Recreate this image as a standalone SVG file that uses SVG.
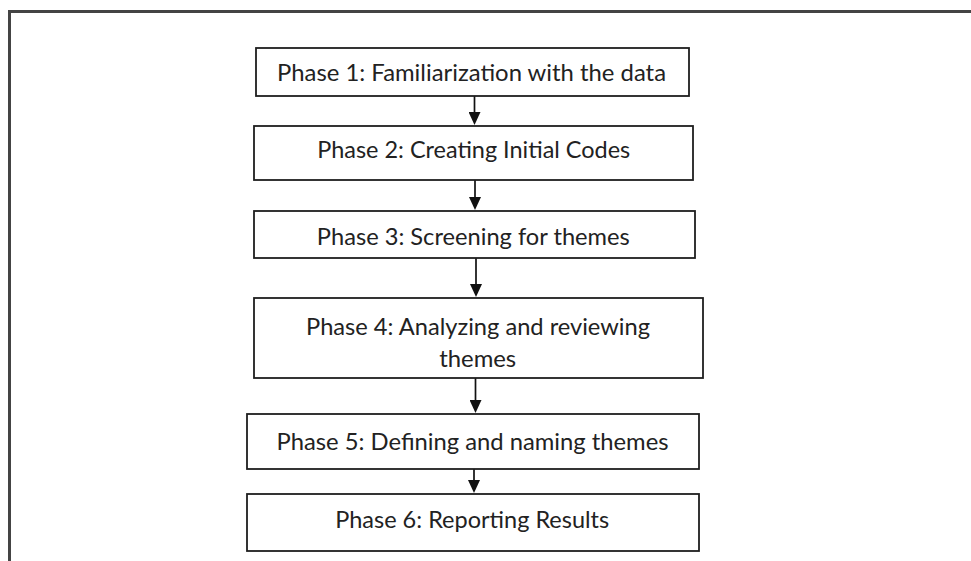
<svg xmlns="http://www.w3.org/2000/svg" width="971" height="561" viewBox="0 0 971 561">
  <style>
    .frame { fill: none; stroke: #444444; stroke-width: 3; }
    .box { fill: #ffffff; stroke: #1e1e1e; stroke-width: 1.8; }
    .lbl { font-family: Lato, "Open Sans", "Liberation Sans", sans-serif; font-size: 23px; fill: #222222; text-anchor: middle; }
    .conn { stroke: #111111; stroke-width: 1.7; fill: none; marker-end: url(#arrow); }
  </style>
  <defs>
    <marker id="arrow" markerUnits="userSpaceOnUse" markerWidth="14" markerHeight="12" viewBox="0 0 14 12" refX="5" refY="6" orient="auto">
      <path d="M0,0 L13,6 L0,12 z" fill="#111111"/>
    </marker>
  </defs>
  <rect width="971" height="561" fill="#ffffff"/>
  <path class="frame" d="M9.5,561 V11.5 H971"/>

  <g id="connectors">
    <line class="conn" x1="474.5" y1="96" x2="474.5" y2="117"/>
    <line class="conn" x1="475" y1="180" x2="475" y2="202"/>
    <line class="conn" x1="476" y1="258" x2="476" y2="289"/>
    <line class="conn" x1="475.5" y1="378" x2="475.5" y2="405"/>
    <line class="conn" x1="474" y1="469" x2="474" y2="485"/>
  </g>

  <g id="phase1">
    <rect class="box" x="256" y="48" width="433" height="48"/>
    <text class="lbl" x="471.5" y="81" textLength="389" lengthAdjust="spacingAndGlyphs">Phase 1: Familiarization with the data</text>
  </g>
  <g id="phase2">
    <rect class="box" x="254" y="126" width="439" height="54"/>
    <text class="lbl" x="473.7" y="158" textLength="313" lengthAdjust="spacingAndGlyphs">Phase 2: Creating Initial Codes</text>
  </g>
  <g id="phase3">
    <rect class="box" x="254" y="211" width="441" height="47"/>
    <text class="lbl" x="473.3" y="245" textLength="313" lengthAdjust="spacingAndGlyphs">Phase 3: Screening for themes</text>
  </g>
  <g id="phase4">
    <rect class="box" x="254" y="298" width="449" height="80"/>
    <text class="lbl" x="478" y="335" textLength="344" lengthAdjust="spacingAndGlyphs">Phase 4: Analyzing and reviewing</text>
    <text class="lbl" x="477.7" y="366.7" textLength="77" lengthAdjust="spacingAndGlyphs">themes</text>
  </g>
  <g id="phase5">
    <rect class="box" x="247" y="414" width="452" height="55"/>
    <text class="lbl" x="472.5" y="450" textLength="392" lengthAdjust="spacingAndGlyphs">Phase 5: Defining and naming themes</text>
  </g>
  <g id="phase6">
    <rect class="box" x="247" y="494" width="452" height="57"/>
    <text class="lbl" x="472.2" y="527.7" textLength="274" lengthAdjust="spacingAndGlyphs">Phase 6: Reporting Results</text>
  </g>
</svg>
